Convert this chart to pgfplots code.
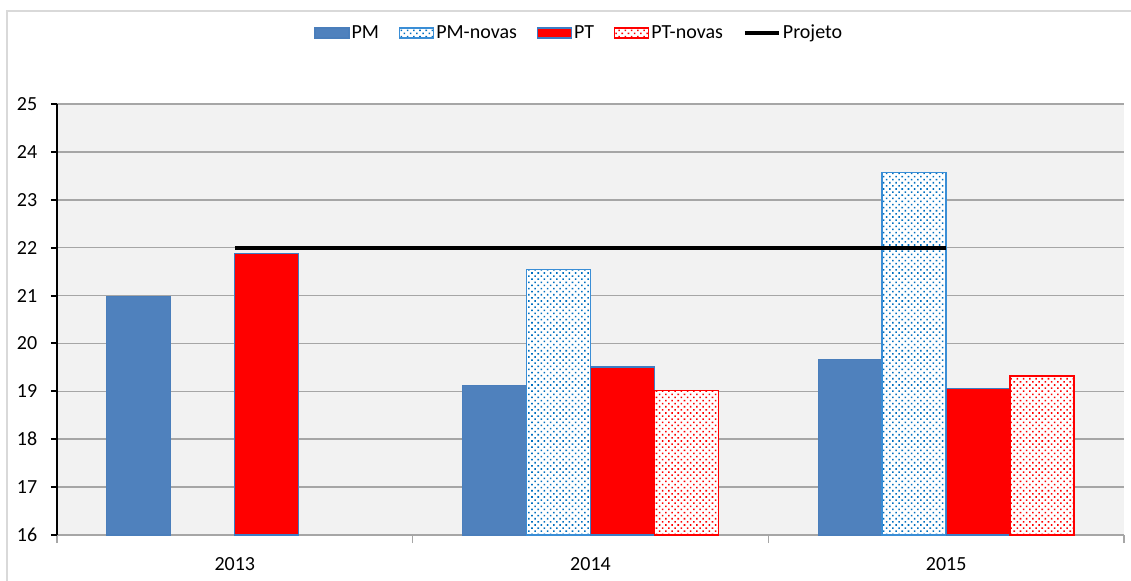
\documentclass[border=0pt]{standalone}
\usepackage{pgfplots}
\pgfplotsset{compat=1.18}
\usepackage{fontspec}
\setmainfont{Carlito}
\usetikzlibrary{patterns.meta}
\definecolor{pmblue}{HTML}{4F81BD}
\definecolor{pmedge}{HTML}{4A7EBB}
\definecolor{novblue}{HTML}{0070C0}
\definecolor{novedge}{HTML}{3A8ED6}
\definecolor{ptedge}{HTML}{3C7DC4}
\definecolor{plotbg}{HTML}{F2F2F2}
\definecolor{gridc}{HTML}{A6A6A6}
\definecolor{framec}{HTML}{D9D9D9}
\pgfplotsset{
  barleg/.style={legend image code/.code={\draw[##1, line width=1.2bp] (0bp,-5bp) rectangle (34bp,5bp);}},
  lineleg/.style={legend image code/.code={\draw[##1] (0bp,0bp) -- (34bp,0bp);}},
}
\begin{document}
\begin{tikzpicture}
\path[use as bounding box] (-57bp,-46bp) rectangle (1074bp,535bp);
\draw[framec, line width=2bp] (-49.5bp,-60bp) |- (1090bp,524bp);
\fontsize{20bp}{23bp}\selectfont
\begin{axis}[
  at={(0bp,0bp)}, anchor=south west,
  scale only axis,
  width=1067bp, height=431bp,
  xmin=-0.5, xmax=2.5,
  ymin=16, ymax=25,
  ytick={16,17,...,25},
  xtick={0,1,2},
  xticklabels={2013,2014,2015},
  minor xtick={-0.5,0.5,1.5,2.5},
  ybar=0pt, bar width=64bp,
  separate axis lines,
  axis x line*=bottom,
  axis y line*=left,
  x axis line style={gridc, line width=1.5bp},
  y axis line style={black, line width=2.5bp},
  tick align=outside,
  major tick length=6bp,
  minor tick length=8bp,
  major x tick style={draw=none},
  minor x tick style={gridc, line width=1.2bp},
  y tick style={black, line width=2bp},
  ymajorgrids,
  grid style={gridc, line width=1.5bp},
  axis background/.style={fill=plotbg},
  yticklabel style={font=\fontsize{20bp}{23bp}\selectfont, xshift=-7bp},
  xticklabel style={font=\fontsize{20bp}{23bp}\selectfont, yshift=-10bp},
  /pgf/number format/assume math mode=true,
  legend columns=5,
  legend style={draw=none, fill=none, at={(axis description cs:0.4895,1.1645)}, anchor=center,
    font=\fontsize{20bp}{23bp}\selectfont,
    /tikz/every even column/.append style={column sep=18bp},
    legend cell align=left, inner sep=0pt},
  barleg,
]
\addplot[fill=pmblue, draw=pmedge, line width=1.2bp] coordinates {(0,20.98) (1,19.13) (2,19.66)};
\addlegendentry{PM}
\addplot[fill=white, draw=novedge, line width=1.5bp,
  postaction={pattern={Dots[radius=1.1bp, distance=4.4bp, angle=45]}, pattern color=novblue}]
  coordinates {(1,21.54) (2,23.57)};
\addlegendentry{PM-novas}
\addplot[fill=red, draw=ptedge, line width=1.2bp] coordinates {(0,21.87) (1,19.51) (2,19.06)};
\addlegendentry{PT}
\addplot[fill=white, draw=red, line width=1.5bp,
  postaction={pattern={Dots[radius=1.1bp, distance=4.4bp, angle=45]}, pattern color=red}]
  coordinates {(1,19.02) (2,19.32)};
\addlegendentry{PT-novas}
\addplot[sharp plot, black, line width=4bp, lineleg]
  coordinates {(0,22) (2,22)};
\addlegendentry{Projeto}
\end{axis}
\end{tikzpicture}
\end{document}
